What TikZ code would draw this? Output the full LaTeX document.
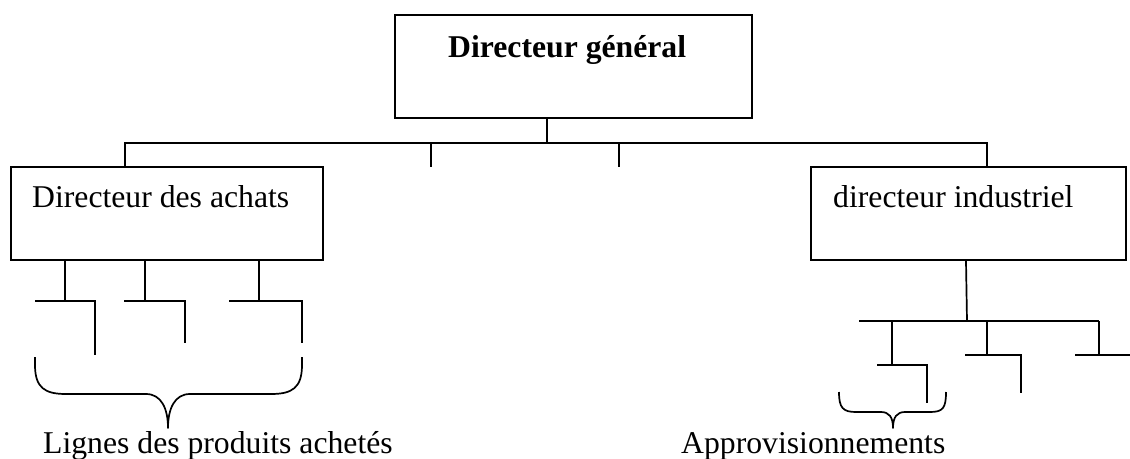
\documentclass[tikz,border=0pt]{standalone}
\usepackage{fontspec}
\setmainfont{Liberation Serif}
\begin{document}
\begin{tikzpicture}[x=1pt,y=-1pt,
  box/.style={draw,line width=2.2pt,inner sep=0pt},
  wire/.style={line width=1.7pt},
  lbl/.style={anchor=base west,inner sep=0pt,font=\fontsize{31.7}{38}\selectfont},
  brace/.style={line width=1.7pt,line join=round}]
\useasboundingbox (0,0) rectangle (1130,458);

% boxes
\node[box,minimum width=357pt,minimum height=103pt] (dg) at (573.5,66.5) {};
\node[box,minimum width=312pt,minimum height=93pt] (da) at (167,213.5) {};
\node[box,minimum width=315pt,minimum height=93pt] (di) at (968.5,213.5) {};

% box titles
\node[lbl,font=\fontsize{31.7}{38}\selectfont\bfseries] (tdg) at (448,57) {Directeur général};
\node[lbl] (tda) at (32,207) {Directeur des achats};
\node[lbl] (tdi) at (833,207) {directeur industriel};

% top level bus
\coordinate (bus) at (547,143);
\coordinate (busL) at (125,143);
\coordinate (busR) at (987,143);
\coordinate (stubA) at (431,143);
\coordinate (stubB) at (619,143);
\draw[wire] (dg.south -| bus) -- (bus);
\draw[wire] (da.north -| busL) -- (busL) -- (busR) -- (di.north -| busR);
\draw[wire] (stubA) -- ++(0,24);
\draw[wire] (stubB) -- ++(0,24);

% purchasing lines
\coordinate (a1) at (65,301);
\coordinate (a2) at (145,301);
\coordinate (a3) at (259,301);
\draw[wire] (da.south -| a1) -- (a1);
\draw[wire] (da.south -| a2) -- (a2);
\draw[wire] (da.south -| a3) -- (a3);
\draw[wire] (35,301) -- (95,301) -- (95,355);
\draw[wire] (124,301) -- (185,301) -- (185,343);
\draw[wire] (229,301) -- (302,301) -- (302,343);

% left brace
\coordinate (bl) at (168,428);
\draw[brace] (35,357) -- (35,365) .. controls (35,388) and (45,394) .. (66,394)
  -- (146,394) .. controls (161,394) and (168,408) .. (bl)
  .. controls (168,408) and (175,394) .. (190,394)
  -- (271,394) .. controls (292,394) and (302,388) .. (302,365) -- (302,357);
\node[lbl] (tl) at (43,453) {Lignes des produits achetés};

% industrial branch
\coordinate (j) at (967,321);
\draw[wire] (di.south -| 966,0) -- (j);
\coordinate (i1) at (892,321);
\coordinate (i2) at (987,321);
\coordinate (i3) at (1099,321);
\draw[wire] (859,321) -- (i1) -- (j) -- (i2) -- (i3);
\draw[wire] (i1) -- (892,365);
\draw[wire] (i2) -- (987,355);
\draw[wire] (i3) -- (1099,355);
\draw[wire] (877,365) -- (927,365) -- (927,403);
\draw[wire] (965,355) -- (1021,355) -- (1021,393);
\draw[wire] (1075,355) -- (1130,355);

% right brace
\coordinate (br) at (893,428);
\draw[brace] (839,392) .. controls (839,408) and (843,412) .. (856,412)
  -- (881,412) .. controls (889,412) and (893,417) .. (br)
  .. controls (893,417) and (897,412) .. (905,412)
  -- (930,412) .. controls (943,412) and (946,408) .. (946,392);
\node[lbl] (tr) at (681,453) {Approvisionnements};
\end{tikzpicture}
\end{document}
